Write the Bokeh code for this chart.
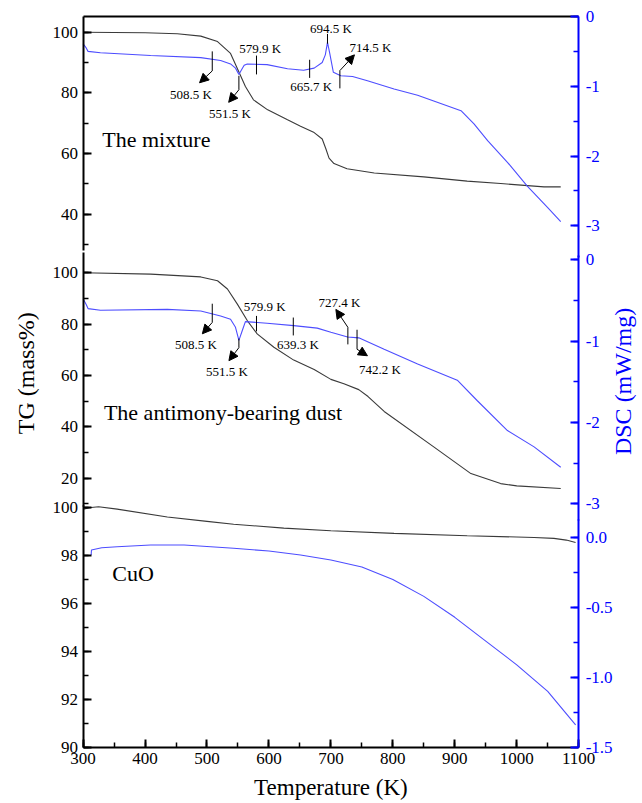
import math
from bokeh.plotting import figure
from bokeh.models import (Range1d, LinearAxis, SingleIntervalTicker, FixedTicker, Label, Arrow,
                          NormalHead, ColumnDataSource, PrintfTickFormatter)
from bokeh.embed import file_html
from bokeh.resources import INLINE
from bokeh.core.properties import value

FONT = "Liberation Serif"
BLACK_CURVE = "#3a3a3a"
BLUE_CURVE = "#4d4dff"
AXIS_BLUE = "#0000ff"

# ---------------- data ----------------
# Panel 1: the mixture
mix_tg_T = [300, 350, 400, 452, 490, 517, 538, 551, 562, 575, 598, 630, 651, 673, 686,
            692, 697, 705, 726, 770, 850, 920, 974, 1044, 1071]
mix_tg = [100, 99.9, 99.8, 99.5, 98.7, 96.9, 93.0, 87.1, 82.1, 77.7, 74.4, 71.1, 69.0, 66.9, 64.8,
          61.5, 58.5, 56.7, 55.0, 53.6, 52.3, 50.9, 50.1, 49.0, 49.0]
mix_dsc_T = [300, 305, 308, 328, 409, 490, 522, 538, 546, 551.5, 556, 560, 565, 597, 630, 656,
             673, 686, 691, 694.5, 698, 704, 716, 735, 759, 802, 840, 866, 910, 931, 953, 985,
             1017, 1050, 1071]
mix_dsc = [-0.39, -0.45, -0.50, -0.52, -0.56, -0.59, -0.63, -0.68, -0.74, -0.83, -0.76, -0.70,
           -0.68, -0.69, -0.75, -0.77, -0.74, -0.66, -0.55, -0.37, -0.52, -0.80, -0.85, -0.86,
           -0.92, -1.04, -1.13, -1.21, -1.35, -1.54, -1.78, -2.09, -2.43, -2.74, -2.94]

# Panel 2: the antimony-bearing dust
dust_tg_T = [300, 409, 490, 517, 533, 549, 565, 581, 608, 640, 673, 700, 721, 745, 760, 786,
             866, 926, 974, 1000, 1071]
dust_tg = [100, 99.5, 98.4, 96.9, 93.7, 87.8, 81.4, 76.2, 71.0, 66.0, 62.3, 58.5, 56.8, 54.5,
           51.8, 46.0, 32.2, 21.8, 17.9, 17.0, 16.0]
dust_dsc_T = [300, 305, 308, 328, 436, 490, 522, 538, 546, 551.5, 557, 562, 597, 640, 678, 700,
              727, 745, 786, 840, 904, 936, 985, 1028, 1071]
dust_dsc = [-0.48, -0.55, -0.60, -0.62, -0.61, -0.63, -0.69, -0.73, -0.83, -0.99, -0.87, -0.76,
            -0.78, -0.81, -0.84, -0.89, -0.95, -0.96, -1.10, -1.28, -1.48, -1.73, -2.10, -2.30,
            -2.55]

# Panel 3: CuO
cuo_tg_T = [300, 313, 325, 355, 436, 500, 543, 624, 700, 802, 920, 1028, 1060, 1080, 1095]
cuo_tg = [99.93, 100.0, 100.03, 99.93, 99.6, 99.42, 99.3, 99.14, 99.03, 98.92, 98.82, 98.75,
          98.71, 98.64, 98.54]
cuo_dsc_T = [313, 313.5, 330, 355, 409, 463, 543, 600, 651, 700, 750, 800, 850, 900, 950, 1000,
             1050, 1095]
cuo_dsc = [-0.124, -0.088, -0.072, -0.065, -0.052, -0.052, -0.076, -0.095, -0.124, -0.16, -0.21,
           -0.30, -0.42, -0.57, -0.74, -0.91, -1.10, -1.34]

# Annotated temperatures (panel 1)
mix_mark_T = [508.5, 551.5, 579.9, 665.7, 694.5, 714.5]
mix_mark_top = [-0.50, -0.85, -0.56, -0.62, -0.25, -0.775]
mix_mark_bot = [-0.78, -1.05, -0.83, -0.88, -0.39, -1.03]
mix_arrow_x0 = [508.5, 551.5, 714.5]
mix_arrow_y0 = [-0.78, -1.05, -0.775]
mix_arrow_x1 = [488, 535, 738]
mix_arrow_y1 = [-0.95, -1.23, -0.55]
mix_text = ["508.5 K", "551.5 K", "579.9 K", "665.7 K", "694.5 K", "714.5 K"]
mix_text_x = [474, 537, 586, 668, 700, 764]
mix_text_y = [-1.12, -1.39, -0.46, -1.005, -0.17, -0.44]

# Annotated temperatures (panel 2)
dust_mark_T = [508.5, 551.5, 579.9, 639.3, 727.4, 742.2]
dust_mark_top = [-0.54, -0.97, -0.69, -0.71, -0.83, -0.86]
dust_mark_bot = [-0.77, -1.08, -0.88, -0.93, -1.04, -1.10]
dust_arrow_x0 = [508.5, 551.5, 727.4, 742.2]
dust_arrow_y0 = [-0.77, -1.08, -0.83, -1.10]
dust_arrow_x1 = [492.5, 535.4, 708, 759]
dust_arrow_y1 = [-0.91, -1.24, -0.61, -1.18]
dust_text = ["508.5 K", "551.5 K", "579.9 K", "639.3 K", "727.4 K", "742.2 K"]
dust_text_x = [482, 532, 593, 647, 714, 779]
dust_text_y = [-1.047, -1.374, -0.573, -1.043, -0.52, -1.35]

# ---------------- figure ----------------
# The frame fills the whole canvas; the visible box (300-1100 K) is drawn by the axes.
p = figure(width=642, height=803, x_range=Range1d(166.67, 1203.0),
           y_range=Range1d(87.651, 121.15), x_axis_location=None, y_axis_location=None,
           output_backend="svg", toolbar_location=None,
           min_border_left=0, min_border_right=0, min_border_top=0, min_border_bottom=0)
p.grid.visible = False
p.outline_line_color = None
p.background_fill_color = "white"
p.border_fill_color = "white"

p.extra_y_ranges = {
    "tg1": Range1d(-154.30, 110.45),
    "dsc1": Range1d(-11.280, 0.2293),
    "tg2": Range1d(-106.70, 206.06),
    "dsc2": Range1d(-6.685, 3.188),
    "dsc3": Range1d(-1.9026, 3.845),
}


def style_axis(ax, color):
    ax.axis_line_color = color
    ax.axis_line_width = 2
    ax.major_tick_line_color = color
    ax.minor_tick_line_color = color
    ax.major_tick_line_width = 2
    ax.minor_tick_line_width = 1.5
    ax.major_tick_in = 8
    ax.major_tick_out = 0
    ax.minor_tick_in = 5
    ax.minor_tick_out = 0
    ax.major_label_text_font = FONT
    ax.major_label_text_font_size = "17px"
    ax.major_label_text_color = color


def add_y(side, rng, bounds, interval, color, loc, standoff, fmt):
    ax = LinearAxis(y_range_name=rng, fixed_location=loc, bounds=bounds,
                    ticker=SingleIntervalTicker(interval=interval, num_minor_ticks=2),
                    formatter=PrintfTickFormatter(format=fmt))
    style_axis(ax, color)
    ax.major_label_standoff = standoff
    p.add_layout(ax, side)


add_y("left", "tg1", (28, 105.18), 20, "black", 300, 5, "%d")
add_y("left", "tg2", (9, 108), 20, "black", 300, 5, "%d")
add_y("left", "default", (90, 100.1), 2, "black", 300, 5, "%d")
add_y("right", "dsc1", (-3.45, 0), 1, AXIS_BLUE, 1100, 7, "%d")
add_y("right", "dsc2", (-3.2, 0.05), 1, AXIS_BLUE, 1100, 7, "%d")
add_y("right", "dsc3", (-1.5, 0.13), 0.5, AXIS_BLUE, 1100, 7, "%.1f")

# bottom axis (temperature)
xax = LinearAxis(fixed_location=90, bounds=(300, 1100),
                 ticker=SingleIntervalTicker(interval=100, num_minor_ticks=2),
                 formatter=PrintfTickFormatter(format="%d"))
style_axis(xax, "black")
xax.major_label_standoff = 6
p.add_layout(xax, "below")

# top border of the box
tax = LinearAxis(y_range_name="tg1", fixed_location=105.18, bounds=(300, 1100),
                 ticker=FixedTicker(ticks=[]))
tax.axis_line_color = "black"
tax.axis_line_width = 2
tax.major_label_text_font_size = "0px"
p.add_layout(tax, "above")

# ---------------- curves ----------------
p.line(mix_tg_T, mix_tg, y_range_name="tg1", line_color=BLACK_CURVE, line_width=1.1)
p.line(mix_dsc_T, mix_dsc, y_range_name="dsc1", line_color=BLUE_CURVE, line_width=1.1)
p.line(dust_tg_T, dust_tg, y_range_name="tg2", line_color=BLACK_CURVE, line_width=1.1)
p.line(dust_dsc_T, dust_dsc, y_range_name="dsc2", line_color=BLUE_CURVE, line_width=1.1)
p.line(cuo_tg_T, cuo_tg, line_color=BLACK_CURVE, line_width=1.1)
p.line(cuo_dsc_T, cuo_dsc, y_range_name="dsc3", line_color=BLUE_CURVE, line_width=1.1)


# ---------------- annotations ----------------
def annotate(rng, mT, mtop, mbot, ax0, ay0, ax1, ay1, txt, tx, ty):
    p.segment(x0=mT, y0=mtop, x1=mT, y1=mbot, y_range_name=rng,
              line_color="black", line_width=1)
    src = ColumnDataSource(dict(x0=ax0, y0=ay0, x1=ax1, y1=ay1))
    arr = Arrow(source=src, x_start="x0", y_start="y0", x_end="x1", y_end="y1",
                y_range_name=rng, line_color="black", line_width=1,
                end=NormalHead(size=9, fill_color="black", line_color="black", line_width=1))
    p.add_layout(arr)
    p.text(x=tx, y=ty, text=txt, y_range_name=rng, text_font=value(FONT),
           text_font_size="13px", text_align="center", text_baseline="middle",
           text_color="black")


annotate("dsc1", mix_mark_T, mix_mark_top, mix_mark_bot, mix_arrow_x0, mix_arrow_y0,
         mix_arrow_x1, mix_arrow_y1, mix_text, mix_text_x, mix_text_y)
annotate("dsc2", dust_mark_T, dust_mark_top, dust_mark_bot, dust_arrow_x0, dust_arrow_y0,
         dust_arrow_x1, dust_arrow_y1, dust_text, dust_text_x, dust_text_y)

# panel names
for txt, x, y, rng in [("The mixture", 331, 64.6, "tg1"),
                       ("The antimony-bearing dust", 333.6, 45.5, "tg2"),
                       ("CuO", 347, 97.23, "default")]:
    p.add_layout(Label(x=x, y=y, y_range_name=rng, text=txt, text_font=FONT,
                       text_font_size="22px", text_align="left", text_baseline="middle",
                       text_color="black"))

# axis titles
p.add_layout(Label(x=208.6, y=105.6, text="TG (mass%)", angle=math.pi / 2,
                   text_font=FONT, text_font_size="24px", text_align="center",
                   text_baseline="middle", text_color="black"))
p.add_layout(Label(x=1172.3, y=105.26, text="DSC (mW/mg)", angle=math.pi / 2,
                   text_font=FONT, text_font_size="24px", text_align="center",
                   text_baseline="middle", text_color=AXIS_BLUE))
p.add_layout(Label(x=700, y=88.30, text="Temperature (K)",
                   text_font=FONT, text_font_size="23px", text_align="center",
                   text_baseline="middle", text_color="black"))

open("out.html", "w").write(file_html(p, INLINE))
